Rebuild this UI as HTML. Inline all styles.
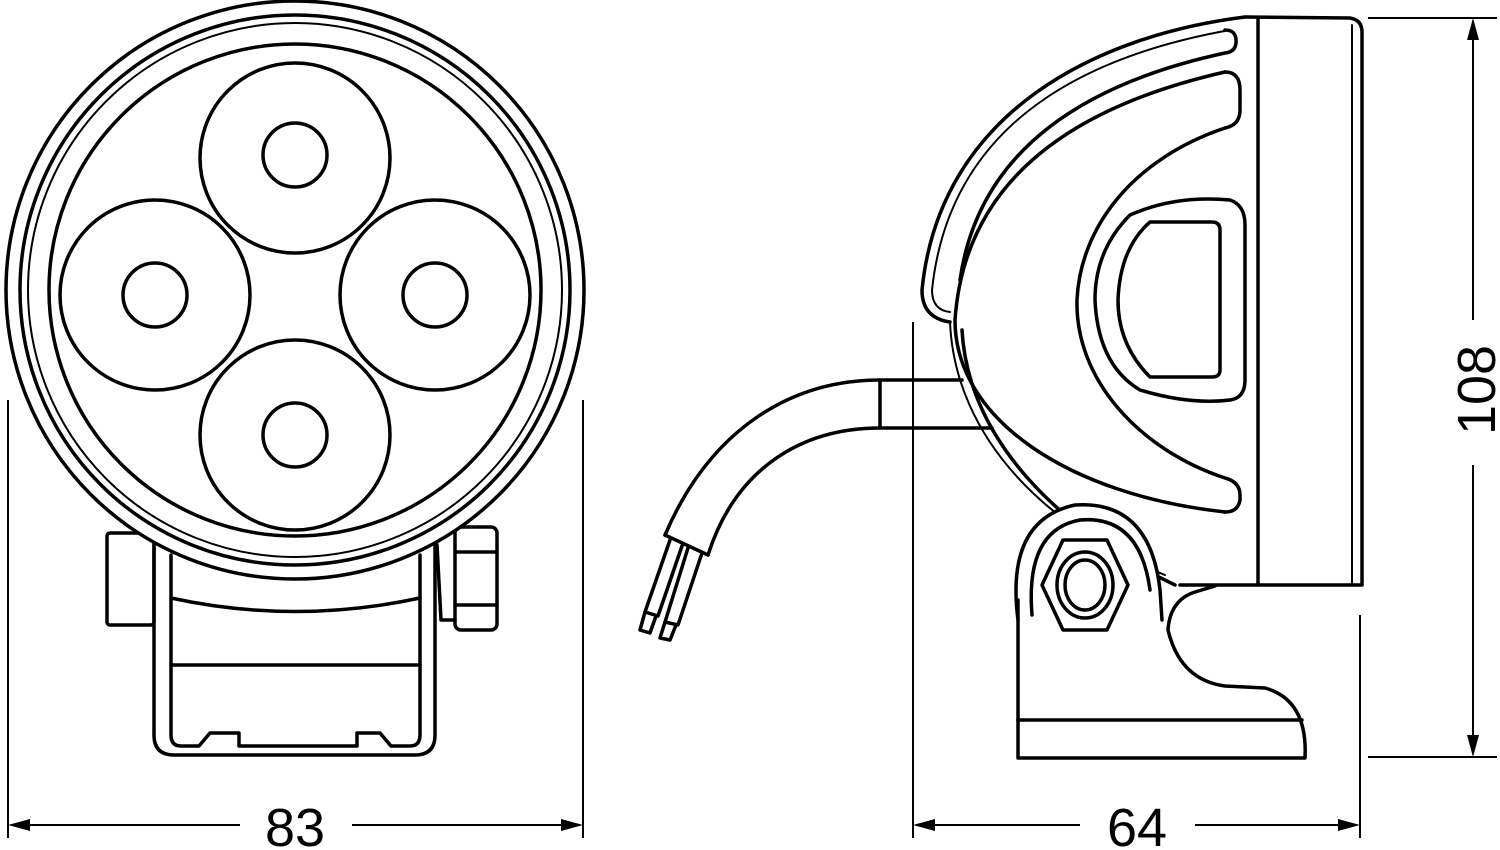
<!DOCTYPE html>
<html><head><meta charset="utf-8"><style>
html,body{margin:0;padding:0;background:#fff;}
svg{display:block;}
text{font-family:"Liberation Sans",sans-serif;fill:#000;}
</style></head><body>
<svg width="1500" height="850" viewBox="0 0 1500 850" xmlns="http://www.w3.org/2000/svg">
<g fill="none" stroke="#000" stroke-width="3.5" stroke-linejoin="round" stroke-linecap="round">
<!-- FRONT VIEW -->
<path d="M154,545 L154,735 Q154,755 174,755 L415,755 Q435,755 435,735 L435,545"/>
<path d="M171,555 L171,735 Q171,746 181,746 L199,746 L210,733 L239,733 L239,746 L357,746 L357,733 L380,733 L391,746 L410,746 Q420,746 420,735 L420,555"/>
<path d="M171,598 Q295,625 420,598"/>
<path d="M171,665 L420,665"/>
<rect x="107" y="533" width="47" height="92" rx="3"/>
<rect x="455" y="527" width="42" height="103" rx="6"/>
<path d="M455,552 L497,552 M455,605 L497,605"/>
<path d="M437,545 L441,620 L455,620"/>
<circle cx="295" cy="290" r="289" fill="#fff"/>
<circle cx="295" cy="290" r="275"/>
<circle cx="295" cy="290" r="267" stroke-width="2"/>
<circle cx="295" cy="290" r="246"/>
<circle cx="295" cy="158" r="95"/>
<circle cx="155" cy="295" r="95"/>
<circle cx="435" cy="295" r="95"/>
<circle cx="295" cy="435" r="95"/>
<circle cx="295" cy="155" r="32"/>
<circle cx="155" cy="295" r="32"/>
<circle cx="435" cy="295" r="32"/>
<circle cx="295" cy="435" r="32"/>

<!-- SIDE VIEW housing -->
<path d="M1245,17 L1350,18 Q1362,20 1362,32 L1362,585 L1180,585"/>
<path d="M1258,18 L1258,585"/>
<path d="M1352,25 L1352,585" stroke-width="2"/>
<path d="M1245,17 C1100,35 940,110 922,290 Q922,318 950,322"/>
<path d="M1230,30 C1090,55 950,120 932,290 Q932,310 950,312" stroke-width="2"/>
<path d="M1225,30 Q1237,30 1236,43 Q1235,52 1225,53 C1100,80 980,140 960,280"/>
<path d="M1225,72 Q1240,72 1240,90 L1240,110 Q1240,125 1225,128"/>
<path d="M1225,72 C1080,105 965,175 955,320 C955,420 1070,495 1225,512"/>
<path d="M962,330 C968,440 1060,530 1175,585"/>
<path d="M950,322 C955,440 1050,530 1165,575" stroke-width="2"/>
<path d="M1225,128 C1130,160 1080,230 1077,300 C1075,380 1140,450 1225,478 Q1240,482 1240,495 L1240,500 Q1238,512 1225,512"/>
<path d="M1230,200 Q1175,195 1130,215 Q1095,250 1095,300 Q1098,365 1140,390 Q1190,405 1230,400 Q1245,398 1245,380 L1245,225 Q1245,205 1230,200 Z"/>
<path d="M1150,222 L1212,222 Q1220,222 1220,230 L1220,370 Q1220,377 1212,377 L1150,377 Q1118,345 1118,300 Q1120,248 1150,222 Z"/>
<!-- bracket (on top) -->
<path d="M1018,758 L1018,620 Q1005,520 1075,505 Q1150,500 1160,590 L1168,630 Q1180,680 1225,686 L1265,688 Q1308,700 1305,758 Z" fill="#fff" stroke="none"/>
<path d="M1018,600 L1018,758 L1305,758 Q1308,700 1265,688 L1225,686 Q1180,680 1168,630 Q1170,600 1195,592 L1215,586"/>
<path d="M1018,720 L1302,720"/>
<path d="M1018,620 Q1005,520 1075,505 Q1150,500 1160,590 L1162,620"/>
<path d="M1032,615 Q1025,530 1080,520 Q1140,515 1150,590"/>
<polygon points="1063,540 1107,540 1128,585 1107,630 1063,630 1042,585"/>
<ellipse cx="1085" cy="585" rx="28" ry="33"/>
<ellipse cx="1085" cy="585" rx="20" ry="25"/>
<!-- cable -->
<path d="M962,380 L880,380 C790,380 710,430 665,535"/>
<path d="M992,428 L880,428 C800,428 735,470 708,555"/>
<path d="M880,380 L880,428"/>
<path d="M665,535 L708,555"/>
<path d="M670,540 L645,612 L658,616 L682,546"/>
<path d="M688,548 L665,622 L678,625 L702,553"/>
<path d="M645,612 L640,630 L650,633 L656,616 M665,622 L660,638 L670,640 L676,625"/>
</g>
<g stroke="#000" stroke-width="2" fill="none">
<path d="M8,400 L8,838 M583,400 L583,838"/>
<path d="M20,825 L240,825 M352,825 L571,825"/>
<path d="M913,322 L913,838 M1360,615 L1360,838"/>
<path d="M925,825 L1080,825 M1195,825 L1348,825"/>
<path d="M1368,18 L1497,18 M1368,757 L1497,757"/>
<path d="M1473,30 L1473,320 M1473,465 L1473,745"/>
</g>
<g fill="#000">
<polygon points="8,825 30,819 30,831"/>
<polygon points="583,825 561,819 561,831"/>
<polygon points="913,825 935,819 935,831"/>
<polygon points="1360,825 1338,819 1338,831"/>
<polygon points="1473,18 1467,40 1479,40"/>
<polygon points="1473,757 1467,735 1479,735"/>
</g>
<text x="295" y="846" font-size="54" text-anchor="middle">83</text>
<text x="1137" y="846" font-size="54" text-anchor="middle">64</text>
<text transform="translate(1495,390) rotate(-90)" font-size="54" text-anchor="middle">108</text>
</svg>
</body></html>
